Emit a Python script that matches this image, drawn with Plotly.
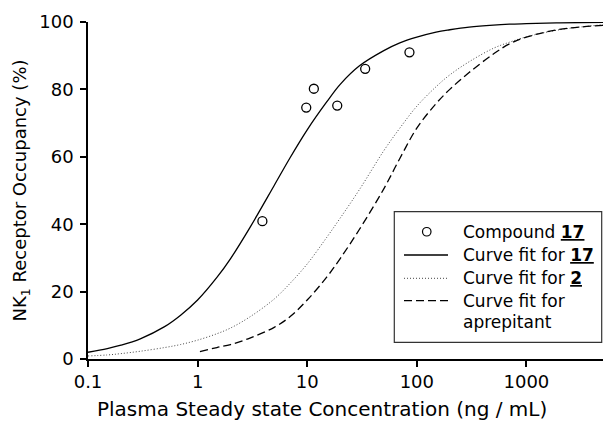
import plotly.graph_objects as go
import math

# Observed data: Compound 17
pts_x = [3.9, 9.8, 11.5, 18.8, 33.8, 85.7]
pts_y = [40.9, 74.6, 80.2, 75.2, 86.1, 91.0]

# Curve fit for 17
fit17_x = [0.1, 0.15, 0.2, 0.3, 0.5, 0.7, 1, 1.5, 2, 3, 5, 7, 10, 15, 20, 30, 50, 70, 100, 150, 200, 300, 500, 700, 1000, 2000, 5000]
fit17_y = [2.0, 3.1, 4.1, 6.0, 9.6, 13.0, 17.5, 24.2, 29.8, 39.0, 51.5, 59.8, 68.0, 76.2, 81.5, 87.0, 91.5, 93.8, 95.5, 97.0, 97.7, 98.5, 99.1, 99.35, 99.5, 99.75, 99.9]

# Curve fit for 2
fit2_x = [0.1, 0.15, 0.2, 0.3, 0.5, 0.7, 1, 1.5, 2, 3, 5, 7, 10, 15, 20, 30, 50, 70, 100, 150, 200, 300, 500, 700, 1000, 2000, 5000]
fit2_y = [0.9, 1.2, 1.6, 2.3, 3.4, 4.3, 5.6, 7.5, 9.2, 12.5, 17.8, 22.5, 28.2, 36.0, 41.8, 50.3, 61.8, 68.5, 75.0, 80.8, 84.3, 88.2, 92.2, 94.0, 95.6, 97.7, 99.2]

# Curve fit for aprepitant
fitA_x = [1.05, 1.5, 2, 3, 5, 7, 10, 15, 20, 30, 50, 70, 100, 150, 200, 300, 500, 700, 1000, 2000, 5000]
fitA_y = [2.2, 3.4, 4.3, 6.2, 9.4, 12.6, 17.5, 24.2, 29.8, 38.5, 50.5, 59.5, 68.5, 75.8, 80.0, 85.0, 90.5, 93.5, 95.5, 97.8, 99.0]

x_ticks = [0.1, 1, 10, 100, 1000]
x_ticktext = ["0.1", "1", "10", "100", "1000"]
y_ticks = [0, 20, 40, 60, 80, 100]

legend_labels = ["Compound <b><u>17</u></b>", "Curve fit for <b><u>17</u></b>",
                 "Curve fit for <b><u>2</u></b>", "Curve fit for", "aprepitant"]
x_title = "Plasma Steady state Concentration (ng / mL)"
y_title = "NK<sub>1</sub> Receptor Occupancy (%)"

FONT = "DejaVu Sans, Liberation Sans, Arial, sans-serif"

# plot area in pixels
L, R, T, B = 88, 603, 22, 359


def px(xp):
    return (xp - L) / (R - L)


def py(yp):
    return (B - yp) / (B - T)


fig = go.Figure()
fig.add_trace(go.Scatter(
    x=pts_x, y=pts_y, mode="markers", name=legend_labels[0],
    marker=dict(symbol="circle-open", size=9, color="black", line=dict(width=1.3, color="black")),
))
fig.add_trace(go.Scatter(
    x=fit17_x, y=fit17_y, mode="lines", name=legend_labels[1],
    line=dict(color="black", width=1.3, shape="spline"),
))
fig.add_trace(go.Scatter(
    x=fit2_x, y=fit2_y, mode="lines", name=legend_labels[2],
    line=dict(color="#444444", width=1, dash="1px,2px", shape="spline"),
))
fig.add_trace(go.Scatter(
    x=fitA_x, y=fitA_y, mode="lines", name="Curve fit for aprepitant",
    line=dict(color="black", width=1.3, dash="8px,4px", shape="spline"),
))

# Manual legend
shapes = [
    dict(type="rect", xref="paper", yref="paper", x0=px(394.3), x1=px(601.7), y0=py(342.3), y1=py(211.7),
         line=dict(color="#333333", width=1.2), fillcolor="white", layer="above"),
    dict(type="circle", xref="paper", yref="paper", x0=px(422.5), x1=px(431), y0=py(236), y1=py(227.5),
         line=dict(color="black", width=1.2), layer="above"),
    dict(type="line", xref="paper", yref="paper", x0=px(404), x1=px(448), y0=py(255), y1=py(255),
         line=dict(color="black", width=1.3), layer="above"),
    dict(type="line", xref="paper", yref="paper", x0=px(404), x1=px(448), y0=py(278.3), y1=py(278.3),
         line=dict(color="#444444", width=1, dash="1px,2px"), layer="above"),
    dict(type="line", xref="paper", yref="paper", x0=px(404), x1=px(448), y0=py(300.7), y1=py(300.7),
         line=dict(color="black", width=1.3, dash="8px,4px"), layer="above"),
]
row_y = [231.7, 255, 278.3, 300.7, 322.3]
annotations = [
    dict(text=t, xref="paper", yref="paper", x=px(460.5), y=py(yy), xanchor="left", yanchor="middle",
         showarrow=False, font=dict(family=FONT, size=17, color="black"))
    for t, yy in zip(legend_labels, row_y)
]
annotations.append(dict(
    text=x_title, xref="paper", yref="paper", x=px(321.5), y=py(409), xanchor="center", yanchor="middle",
    showarrow=False, font=dict(family=FONT, size=20, color="black"),
))

fig.update_layout(
    width=603, height=421,
    margin=dict(l=L, r=603 - R, t=T, b=421 - B),
    paper_bgcolor="white", plot_bgcolor="white",
    font=dict(family=FONT, size=18, color="black"),
    showlegend=False,
    shapes=shapes, annotations=annotations,
)
fig.update_xaxes(
    type="log", range=[-1, math.log10(5000)],
    tickvals=x_ticks, ticktext=x_ticktext,
    showline=True, linecolor="black", linewidth=1.5,
    ticks="outside", ticklen=6, tickwidth=1.5, tickcolor="black",
    showgrid=False, zeroline=False,
    tickfont=dict(size=18),
)
fig.update_yaxes(
    range=[0, 100], tickvals=y_ticks,
    showline=True, linecolor="black", linewidth=1.5,
    ticks="outside", ticklen=6, tickwidth=1.5, tickcolor="black",
    showgrid=False, zeroline=False,
    tickfont=dict(size=18), ticklabelstandoff=3,
    title=dict(text=y_title, font=dict(size=18), standoff=8),
)

fig.write_html("out.html")
